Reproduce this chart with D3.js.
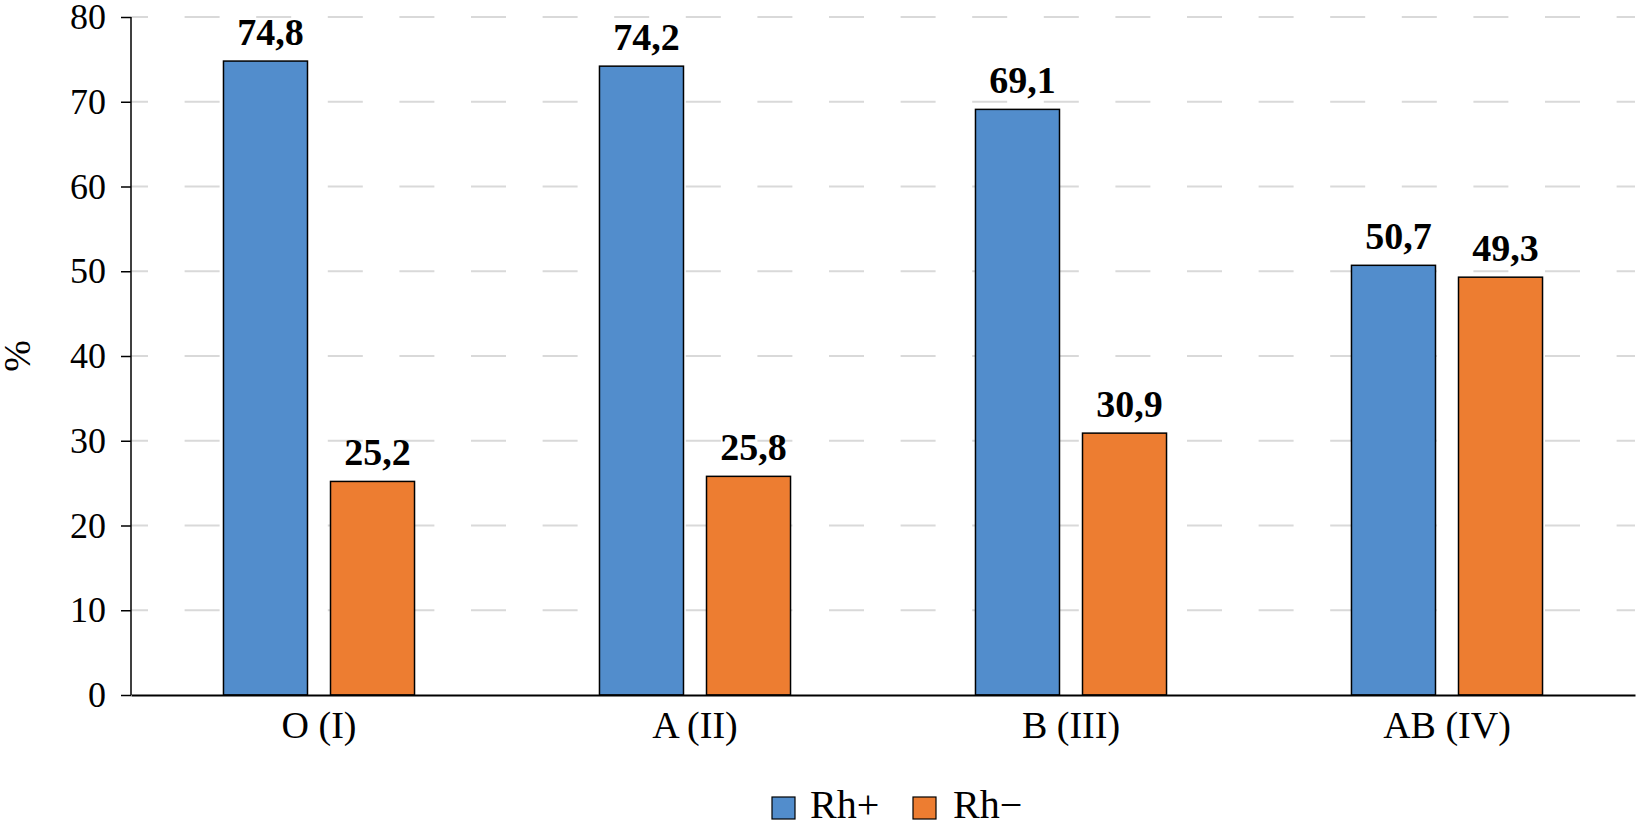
<!DOCTYPE html>
<html>
<head>
<meta charset="utf-8">
<script src="https://d3js.org/d3.v7.min.js"></script>
<style>
  body { margin: 0; padding: 0; background: #fff; }
  svg text { font-family: "Liberation Serif", "Times New Roman", serif; }
</style>
</head>
<body>
<div id="chart"></div>
<script>
// data
var groups = ["O (I)", "A (II)", "B (III)", "AB (IV)"];
var series = ["Rh+", "Rh\u2212"];
var rhPlus = [74.8, 74.2, 69.1, 50.7];
var rhMinus = [25.2, 25.8, 30.9, 49.3];
var yTicks = [0, 10, 20, 30, 40, 50, 60, 70, 80];
var colors = ["#528dcc", "#ed7d31"];

var W = 1636, H = 821;
var margin = { top: 17, right: 1, bottom: 126, left: 131 };
var width = W - margin.left - margin.right,
    height = H - margin.top - margin.bottom;

var svg = d3.select("#chart").append("svg")
    .attr("width", W)
    .attr("height", H);

var g = svg.append("g")
    .attr("transform", "translate(" + margin.left + "," + margin.top + ")");

var x0 = d3.scaleBand().domain(groups).range([0, width]).padding(0);
var x1 = d3.scaleBand().domain(series).range([0, x0.bandwidth()])
    .paddingInner(0.215).paddingOuter(0.864);
var y = d3.scaleLinear().domain([0, 80]).range([height, 0]);

// dashed grid lines
g.append("g").selectAll("line")
    .data(yTicks.filter(d => d > 0))
    .enter().append("line")
    .attr("x1", 0).attr("x2", width)
    .attr("y1", d => y(d)).attr("y2", d => y(d))
    .style("stroke", "#d9d9d9")
    .style("stroke-width", 2)
    .style("stroke-dasharray", "35,36.6")
    .style("stroke-dashoffset", 18);

var rows = groups.map((grp, i) => ({ group: grp, values: [rhPlus[i], rhMinus[i]] }));

var bars = g.append("g").selectAll("g")
    .data(rows)
    .enter().append("g")
    .attr("transform", d => "translate(" + x0(d.group) + ",0)");

bars.selectAll("rect")
    .data(d => d.values.map((v, j) => ({ key: series[j], value: v, idx: j })))
    .enter().append("rect")
    .attr("x", d => x1(d.key))
    .attr("y", d => y(d.value))
    .attr("width", x1.bandwidth())
    .attr("height", d => y(0) - y(d.value))
    .style("fill", d => colors[d.idx])
    .style("stroke", "#000")
    .style("stroke-width", 1.5);

bars.selectAll("text")
    .data(d => d.values.map((v, j) => ({ key: series[j], value: v })))
    .enter().append("text")
    .attr("x", d => x1(d.key) + x1.bandwidth() / 2 + 5)
    .attr("y", d => y(d.value) - 16)
    .attr("text-anchor", "middle")
    .style("font-size", "38px")
    .style("font-weight", "bold")
    .text(d => d3.format(".1f")(d.value).replace(".", ","));

// y axis
var yAxis = g.append("g")
    .call(d3.axisLeft(y).tickValues(yTicks).tickSize(10).tickPadding(15));
yAxis.select(".domain").style("stroke-width", 1.5).attr("d", "M0," + y(80) + "V" + y(0));
yAxis.selectAll(".tick line").style("stroke-width", 1.5);
yAxis.selectAll("text").style("font-size", "36px").style("fill", "#000")
    .style("font-family", "'Liberation Serif', serif");

// x axis
var xAxis = g.append("g")
    .attr("transform", "translate(0," + height + ")")
    .call(d3.axisBottom(x0).tickSize(0));
xAxis.select(".domain").style("stroke-width", 2);
xAxis.selectAll("text").style("font-size", "38px").style("fill", "#000")
    .style("font-family", "'Liberation Serif', serif")
    .attr("y", 43).attr("dy", 0);

// y label
svg.append("text")
    .attr("transform", "translate(30," + (margin.top + height / 2) + ") rotate(-90)")
    .attr("text-anchor", "middle")
    .style("font-size", "38px")
    .text("%");

// legend
var legendX = [772, 913];
var legend = svg.append("g").selectAll("g")
    .data(series)
    .enter().append("g")
    .attr("transform", (d, i) => "translate(" + legendX[i] + ",797)");
legend.append("rect")
    .attr("width", 23).attr("height", 22)
    .style("fill", (d, i) => colors[i])
    .style("stroke", "#000").style("stroke-width", 1.2);
legend.append("text")
    .attr("x", (d, i) => i === 0 ? 38 : 40).attr("y", 21)
    .style("font-size", "40px")
    .text(d => d);
</script>
</body>
</html>
